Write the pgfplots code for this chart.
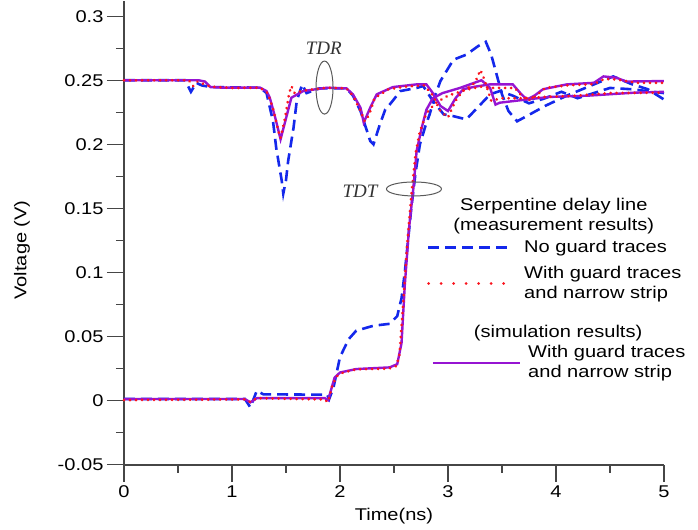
\documentclass[border=0pt]{standalone}
\usepackage{fontspec}
\setmainfont{Liberation Sans}[FakeStretch=1.18]
\newfontfamily\tdfont{Liberation Serif}
\usepackage{pgfplots}
\pgfplotsset{compat=1.18}
\definecolor{cblue}{RGB}{20,40,235}
\definecolor{cred}{RGB}{250,20,30}
\definecolor{cpurple}{RGB}{150,20,210}
\definecolor{axgray}{RGB}{70,70,70}
\begin{document}
\begin{tikzpicture}
\begin{axis}[
  scale only axis, width=540pt, height=464pt,
  xmin=0, xmax=5, ymin=-0.05, ymax=0.312,
  axis lines=left,
  axis line style={-, axgray, line width=1.6pt},
  y axis line style={shorten <=-16pt},
  xtick={0,1,2,3,4,5}, minor xtick={0.5,1.5,2.5,3.5,4.5},
  ytick={-0.05,0,0.05,0.1,0.15,0.2,0.25,0.3},
  minor ytick={-0.025,0.025,0.075,0.125,0.175,0.225,0.275},
  tick align=outside,
  major tick length=17pt, minor tick length=8pt,
  tick style={axgray, line width=1.2pt},
  every tick label/.append style={font=\fontsize{17}{20}\selectfont},
  /pgf/number format/assume math mode=true,
  yticklabel style={/pgf/number format/fixed, /pgf/number format/precision=2},
  xlabel={Time(ns)}, ylabel={Voltage (V)},
  label style={font=\fontsize{17}{20}\selectfont},
  xlabel style={at={(axis description cs:0.5,-0.11)}, anchor=center},
  ylabel style={at={(axis description cs:-0.189,0.463)}, anchor=center},
  clip=false,
]
% ---------- blue dashed: no guard traces (measurement) ----------
\addplot[cblue, line width=2.6pt, dash pattern=on 11pt off 6pt] coordinates {
(0,0.25) (0.565,0.25) (0.62,0.241) (0.67,0.248) (0.72,0.246) (0.80,0.2447) (1.26,0.2442)
(1.32,0.240) (1.38,0.218) (1.41,0.197) (1.46,0.172) (1.475,0.1616) (1.50,0.172) (1.52,0.187)
(1.57,0.213) (1.60,0.234) (1.65,0.2468) (1.69,0.240) (1.81,0.2437) (2.06,0.2437) (2.12,0.238)
(2.19,0.226) (2.28,0.2026) (2.31,0.200) (2.37,0.2157) (2.42,0.2273) (2.46,0.231) (2.56,0.2416)
(2.71,0.244) (2.77,0.2455) (2.86,0.234) (2.96,0.2234) (3.05,0.222) (3.17,0.2195) (3.30,0.231)
(3.39,0.239) (3.48,0.2416) (3.60,0.238) (3.75,0.232) (3.90,0.236) (4.05,0.241) (4.20,0.236)
(4.35,0.240) (4.50,0.244) (4.70,0.243) (5.00,0.240)
};
\addplot[cblue, line width=2.6pt, dash pattern=on 11pt off 6pt] coordinates {
(0,0.0013) (1.12,0.0013) (1.17,-0.0052) (1.23,0.0078) (1.29,0.005) (1.84,0.0047) (1.88,0.005)
(1.90,0.0013) (1.94,0.0104) (2.00,0.034) (2.08,0.048) (2.15,0.0546) (2.31,0.0585) (2.46,0.060)
(2.53,0.066) (2.57,0.080) (2.60,0.100) (2.63,0.125) (2.66,0.150) (2.70,0.178) (2.74,0.200)
(2.79,0.214) (2.83,0.2234) (2.88,0.238) (2.93,0.2494) (3.05,0.266) (3.17,0.270) (3.28,0.2767)
(3.35,0.280) (3.40,0.270) (3.45,0.2546) (3.50,0.239) (3.56,0.226) (3.64,0.218) (3.75,0.223)
(3.90,0.230) (4.10,0.238) (4.30,0.245) (4.53,0.253) (4.70,0.247) (4.85,0.243) (5.00,0.235)
};
% ---------- purple solid: simulation ----------
\addplot[cpurple, line width=2.4pt] coordinates {
(0,0.25) (0.69,0.25) (0.75,0.249) (0.80,0.2447) (0.90,0.2443) (1.26,0.2442) (1.32,0.2416)
(1.35,0.2364) (1.40,0.221) (1.45,0.204) (1.51,0.2234) (1.55,0.2364) (1.66,0.2416) (1.88,0.2442)
(2.06,0.2437) (2.12,0.239) (2.19,0.2286) (2.22,0.217) (2.28,0.2286) (2.34,0.239) (2.49,0.2447)
(2.71,0.2468) (2.80,0.2468) (2.86,0.240) (2.93,0.230) (3.00,0.226) (3.07,0.236) (3.14,0.243)
(3.25,0.245) (3.39,0.2468) (3.60,0.2468) (3.67,0.240) (3.73,0.235) (3.80,0.238) (3.88,0.243)
(4.10,0.2468) (4.35,0.248) (4.44,0.253) (4.56,0.252) (4.65,0.249) (5.00,0.2494)
};
\addplot[cpurple, line width=2.4pt] coordinates {
(0,0.0013) (1.12,0.0013) (1.17,-0.0013) (1.23,0.002) (1.86,0.002) (1.89,0.0005) (1.95,0.018)
(2.00,0.022) (2.15,0.0247) (2.46,0.026) (2.53,0.0285) (2.57,0.045) (2.60,0.090) (2.64,0.135)
(2.68,0.166) (2.71,0.195) (2.76,0.214) (2.80,0.227) (2.86,0.236) (2.95,0.240) (3.11,0.244)
(3.31,0.250) (3.39,0.244) (3.44,0.231) (3.48,0.2325) (3.73,0.235) (3.94,0.237) (4.30,0.238)
(4.72,0.2403) (5.00,0.241)
};
% ---------- red dotted: with guard traces (measurement) ----------
\addplot[cred, line width=3pt, line cap=round, dash pattern=on 0.01pt off 6pt] coordinates {
(0,0.25) (0.60,0.25) (0.64,0.2455) (0.68,0.249) (0.80,0.245) (1.00,0.244) (1.26,0.2442)
(1.33,0.240) (1.38,0.228) (1.43,0.210) (1.45,0.205) (1.49,0.220) (1.53,0.240) (1.55,0.2455)
(1.58,0.240) (1.66,0.242) (1.88,0.2442) (2.06,0.2437) (2.12,0.238) (2.19,0.226) (2.23,0.218)
(2.27,0.223) (2.32,0.236) (2.45,0.243) (2.60,0.245) (2.78,0.246) (2.86,0.238) (2.93,0.226)
(3.00,0.221) (3.07,0.234) (3.14,0.242) (3.30,0.245) (3.42,0.244) (3.62,0.244) (3.68,0.238)
(3.74,0.234) (3.82,0.238) (3.90,0.244) (4.10,0.246) (4.35,0.247) (4.45,0.251) (4.56,0.2506)
(4.75,0.248) (5.00,0.248)
};
\addplot[cred, line width=3pt, line cap=round, dash pattern=on 0.01pt off 6pt] coordinates {
(0,0.0005) (1.12,0.001) (1.17,-0.001) (1.23,0.002) (1.85,0.001) (1.89,-0.001) (1.93,0.012)
(1.97,0.019) (2.03,0.022) (2.15,0.0245) (2.45,0.025) (2.52,0.027) (2.55,0.035) (2.58,0.070)
(2.62,0.120) (2.66,0.160) (2.70,0.193) (2.74,0.210) (2.80,0.224) (2.88,0.232) (3.00,0.238)
(3.15,0.242) (3.25,0.248) (3.30,0.258) (3.34,0.250) (3.40,0.234) (3.50,0.236) (3.70,0.236)
(3.90,0.237) (4.20,0.238) (4.50,0.240) (5.00,0.2403)
};
% ---------- annotations ----------
\node[font=\tdfont\itshape\fontsize{19}{20}\selectfont, text=black!80] at (axis cs:1.85,0.275) {TDR};
\draw[black!65, line width=1pt] (axis cs:1.857,0.2443) ellipse [x radius=8.5pt, y radius=26.5pt];
\node[font=\tdfont\itshape\fontsize{19}{20}\selectfont, text=black!80] at (axis cs:2.185,0.1637) {TDT};
\draw[black!65, line width=1pt] (axis cs:2.685,0.1652) ellipse [x radius=27.5pt, y radius=7pt];
% ---------- legend ----------
\node[font=\fontsize{17}{20}\selectfont, align=center] at (axis cs:3.98,0.1442) {Serpentine delay line\\(measurement results)};
\draw[cblue, line width=2.6pt, dash pattern=on 11pt off 6pt] (axis cs:2.815,0.1193) -- (axis cs:3.574,0.1193);
\node[font=\fontsize{17}{20}\selectfont, anchor=west, inner sep=0pt] at (axis cs:3.704,0.1193) {No guard traces};
\draw[cred, line width=3pt, line cap=round, dash pattern=on 0.01pt off 12.5pt] (axis cs:2.82,0.0912) -- (axis cs:3.593,0.0912);
\node[font=\fontsize{17}{20}\selectfont, anchor=west, align=left, inner sep=0pt] at (axis cs:3.704,0.0912) {With guard traces\\and narrow strip};
\node[font=\fontsize{17}{20}\selectfont] at (axis cs:4.02,0.053) {(simulation results)};
\draw[cpurple, line width=2.4pt] (axis cs:2.861,0.0296) -- (axis cs:3.667,0.0296);
\node[font=\fontsize{17}{20}\selectfont, anchor=west, align=left, inner sep=0pt] at (axis cs:3.741,0.0296) {With guard traces\\and narrow strip};
\path (axis cs:-1.148,-0.1005) rectangle (axis cs:5.315,0.312);
\end{axis}
\end{tikzpicture}
\end{document}
